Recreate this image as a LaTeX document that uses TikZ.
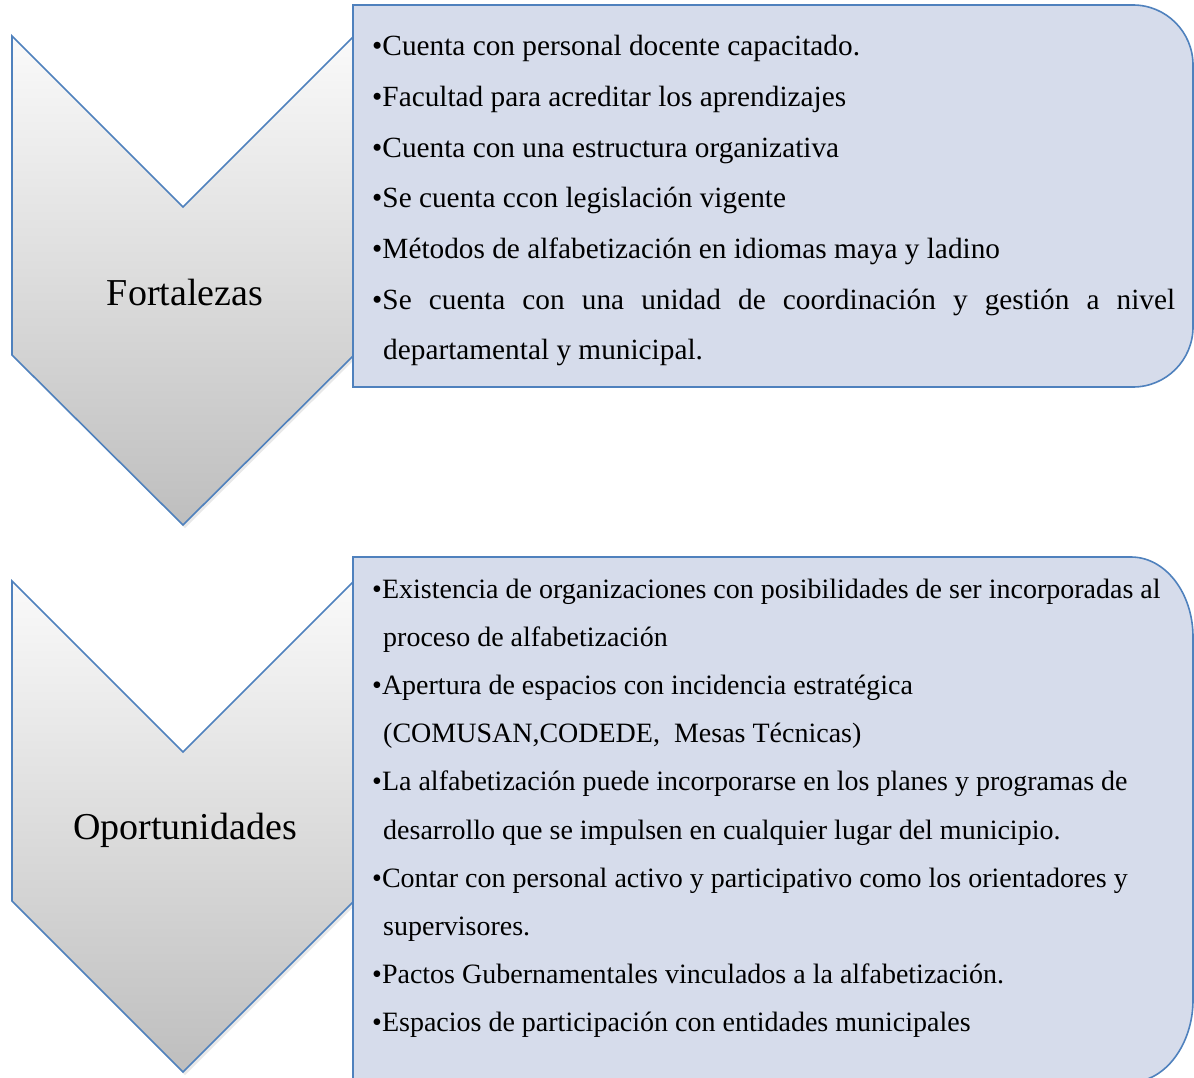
\documentclass[tikz,border=0pt]{standalone}
\usepackage{fontspec}
\setmainfont{Liberation Serif}
\usetikzlibrary{shadows}

\definecolor{borde}{RGB}{79,129,189}
\definecolor{caja}{RGB}{214,220,235}
\definecolor{clarito}{RGB}{250,250,250}
\definecolor{grisfondo}{RGB}{190,190,190}

\tikzset{
	flecha/.style={draw=borde,line width=1.6pt,line join=miter,top color=clarito,bottom color=grisfondo,
		drop shadow={opacity=0.18,shadow xshift=2pt,shadow yshift=-3pt}},
	caja/.style={draw=borde,line width=1.6pt,fill=caja},
	titulo/.style={anchor=base,inner sep=0pt,font=\fontsize{38}{44}\selectfont},
	itemF/.style={anchor=base west,inner sep=0pt,font=\fontsize{29.3}{35}\selectfont},
	itemO/.style={anchor=base west,inner sep=0pt,font=\fontsize{28}{34}\selectfont}
}

\begin{document}
\begin{tikzpicture}[x=1pt,y=-1pt]
			\useasboundingbox (0,0) rectangle (1194,1078);

			% fortalezas
			\coordinate (A) at (12,36);
			\coordinate (B) at (183,207);
			\coordinate (C) at (354,36);
			\coordinate (D) at (354,355);
			\coordinate (E) at (183,525);
			\coordinate (F) at (12,355);

			\path[flecha] (A)--(B)--(C)--(D)--(E)--(F)--cycle;

			\path[caja] (353,5)--(1133,5) .. controls (1166.1,5) and (1193,31.9) .. (1193,65)
				--(1193,327) .. controls (1193,360.1) and (1166.1,387) .. (1133,387)--(353,387)--cycle;

			\node[titulo] (fort) at (185,305) {Fortalezas};

			\node[itemF] (f1) at (372,56) {•Cuenta con personal docente capacitado.};
			\node[itemF] (f2) at (372,106.6) {•Facultad para acreditar los aprendizajes};
			\node[itemF] (f3) at (372,157.2) {•Cuenta con una estructura organizativa};
			\node[itemF] (f4) at (372,207.8) {•Se cuenta ccon legislación vigente};
			\node[itemF] (f5) at (372,258.4) {•Métodos de alfabetización en idiomas maya y ladino};
			\node[itemF] (f6) at (372,309) {\makebox[803pt][s]{•Se cuenta con una unidad de coordinación y gestión a nivel}};
			\node[itemF] (f7) at (383,359.6) {departamental y municipal.};

			% oportunidades
			\coordinate (G) at (12,581);
			\coordinate (H) at (183,752);
			\coordinate (I) at (354,581);
			\coordinate (J) at (354,901);
			\coordinate (K) at (183,1072);
			\coordinate (L) at (12,901);

			\path[flecha] (G)--(H)--(I)--(J)--(K)--(L)--cycle;

			\path[caja] (353,557)--(1131,557) .. controls (1165.2,557) and (1193,592.8) .. (1193,637)
				--(1193,1000) .. controls (1193,1044.2) and (1165.2,1082) .. (1131,1082)--(353,1082)--cycle;

			\node[titulo] (opor) at (185,839) {Oportunidades};

			\node[itemO] (o1) at (372,598) {•Existencia de organizaciones con posibilidades de ser incorporadas al};
			\node[itemO] (o2) at (383,646.2) {proceso de alfabetización};
			\node[itemO] (o3) at (372,694.4) {•Apertura de espacios con incidencia estratégica};
			\node[itemO] (o4) at (383,742.6) {(COMUSAN,CODEDE,\ \ Mesas Técnicas)};
			\node[itemO] (o5) at (372,790.8) {•La alfabetización puede incorporarse en los planes y programas de};
			\node[itemO] (o6) at (383,839) {desarrollo que se impulsen en cualquier lugar del municipio.};
			\node[itemO] (o7) at (372,887.2) {•Contar con personal activo y participativo como los orientadores y};
			\node[itemO] (o8) at (383,935.4) {supervisores.};
			\node[itemO] (o9) at (372,983.6) {•Pactos Gubernamentales vinculados a la alfabetización.};
			\node[itemO] (o10) at (372,1031.8) {•Espacios de participación con entidades municipales};
\end{tikzpicture}
\end{document}
